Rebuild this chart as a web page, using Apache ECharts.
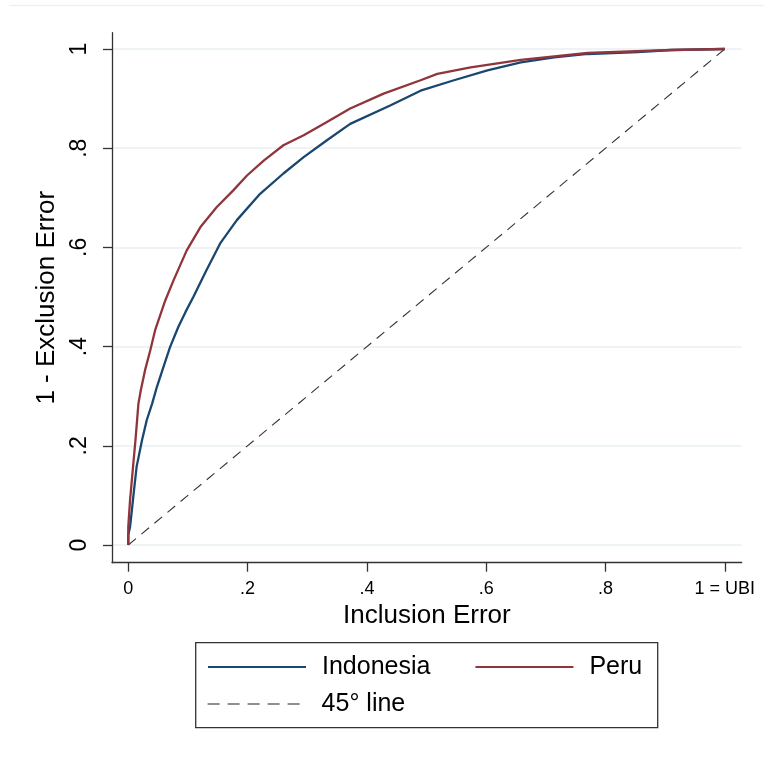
<!DOCTYPE html>
<html>
<head>
<meta charset="utf-8">
<script src="https://cdn.jsdelivr.net/npm/echarts@6/dist/echarts.min.js"></script>
<style>
html,body{margin:0;padding:0;background:#fff;}
#chart{width:764px;height:761px;}
</style>
</head>
<body>
<div id="chart"></div>
<script>
// ---- data ----
var xTickValues = [0, 0.2, 0.4, 0.6, 0.8, 1];
var xTickLabels = ['0', '.2', '.4', '.6', '.8', '1 = UBI'];
var yTickValues = [0, 0.2, 0.4, 0.6, 0.8, 1];
var yTickLabels = ['0', '.2', '.4', '.6', '.8', '1'];

var indonesia = [
  [0,0],[0,0.02],[0.003,0.037],[0.006,0.07],[0.009,0.104],[0.014,0.158],[0.023,0.211],
  [0.031,0.252],[0.04,0.285],[0.048,0.319],[0.059,0.359],[0.07,0.399],[0.084,0.44],
  [0.096,0.47],[0.109,0.5],[0.131,0.554],[0.154,0.608],[0.182,0.655],[0.221,0.708],
  [0.26,0.749],[0.294,0.782],[0.333,0.816],[0.372,0.849],[0.439,0.886],[0.49,0.916],
  [0.546,0.937],[0.602,0.957],[0.658,0.973],[0.714,0.983],[0.77,0.99],[0.854,0.994],
  [0.91,0.998],[1,1]
];
var peru = [
  [0,0],[0,0.037],[0.003,0.091],[0.008,0.158],[0.012,0.211],[0.017,0.285],[0.021,0.312],
  [0.028,0.352],[0.037,0.393],[0.045,0.433],[0.054,0.465],[0.062,0.493],[0.076,0.534],
  [0.098,0.594],[0.121,0.641],[0.148,0.681],[0.176,0.715],[0.199,0.745],[0.227,0.775],
  [0.26,0.806],[0.294,0.826],[0.333,0.853],[0.372,0.88],[0.428,0.91],[0.49,0.937],
  [0.518,0.95],[0.574,0.963],[0.658,0.978],[0.77,0.992],[0.91,0.998],[1,1]
];
var diagonal = [[0,0],[1,1]];

var seriesNames = ['Indonesia', 'Peru', '45\u00B0 line'];
var xTitle = 'Inclusion Error';
var yTitle = '1 - Exclusion Error';

var FONT = "'Liberation Sans', Arial, sans-serif";
var chart = echarts.init(document.getElementById('chart'), null, {renderer:'canvas'});

function lookup(values, labels){
  return function(v){
    for (var i=0;i<values.length;i++){ if (Math.abs(values[i]-v)<1e-9) return labels[i]; }
    return '';
  };
}

var legendCommon = {
  orient: 'horizontal', left: 207, padding: 0, itemWidth: 98, itemHeight: 14,
  selectedMode: false,
  itemStyle: {opacity: 0},
  textStyle: {fontFamily: FONT, fontSize: 25, color: '#000', padding: [0,0,0,11]}
};

var option = {
  animation: false,
  backgroundColor: '#ffffff',
  grid: {left: 112, right: 22.3, top: 32.7, bottom: 198.3, containLabel: false},
  xAxis: {
    type: 'value', min: -0.0273, max: 1.0283,
    name: xTitle, nameLocation: 'middle', nameGap: 35,
    nameTextStyle: {fontFamily: FONT, fontSize: 26, color: '#000'},
    axisLine: {show: true, onZero: false, lineStyle: {color: '#333', width: 1.3}},
    axisTick: {show: true, inside: false, length: 9, customValues: xTickValues, lineStyle: {color: '#333', width: 1.3}},
    axisLabel: {customValues: xTickValues, formatter: lookup(xTickValues, xTickLabels), margin: 17,
      fontFamily: FONT, fontSize: 18, color: '#000', showMinLabel: true, showMaxLabel: true},
    splitLine: {show: false}
  },
  yAxis: {
    type: 'value', min: -0.0357, max: 1.0329,
    name: yTitle, nameLocation: 'middle', nameGap: 45,
    nameTextStyle: {fontFamily: FONT, fontSize: 26, color: '#000'},
    axisLine: {show: true, onZero: false, lineStyle: {color: '#333', width: 1.3}},
    axisTick: {show: true, inside: false, length: 9, customValues: yTickValues, lineStyle: {color: '#333', width: 1.3}},
    axisLabel: {customValues: yTickValues, formatter: lookup(yTickValues, yTickLabels), rotate: 90, margin: 21,
      fontFamily: FONT, fontSize: 23, color: '#000', showMinLabel: true, showMaxLabel: true},
    splitLine: {show: true, lineStyle: {color: '#e9f1f3', width: 1.5}}
  },
  legend: [
    Object.assign({}, legendCommon, {
      data: [
        {name: seriesNames[0], lineStyle: {width: 2, color: '#1a476f'}},
        {name: seriesNames[1], lineStyle: {width: 2, color: '#90353b'}}
      ],
      top: 654.5, itemGap: 44}),
    Object.assign({}, legendCommon, {
      data: [{name: seriesNames[2], lineStyle: {width: 1.2, color: '#222', type: [12, 8], opacity: 1}}],
      top: 691.5})
  ],
  graphic: [
    {type: 'rect', silent: true, z: 100,
     shape: {x: 195.7, y: 642.7, width: 462, height: 85},
     style: {fill: 'none', stroke: '#333', lineWidth: 1.3}},
    {type: 'line', silent: true,
     shape: {x1: 9, y1: 5.5, x2: 764, y2: 5.5},
     style: {stroke: '#edf1f2', lineWidth: 1.5}}
  ],
  series: [
    {name: seriesNames[2], type: 'line', data: diagonal, symbol: 'none', z: 1,
     lineStyle: {color: '#333', width: 1.1, type: [10, 7]}, itemStyle: {color: '#333'}},
    {name: seriesNames[0], type: 'line', data: indonesia, symbol: 'none', z: 2,
     lineStyle: {color: '#1a476f', width: 2.3}, itemStyle: {color: '#1a476f'}},
    {name: seriesNames[1], type: 'line', data: peru, symbol: 'none', z: 3,
     lineStyle: {color: '#90353b', width: 2.3}, itemStyle: {color: '#90353b'}}
  ]
};
chart.setOption(option);
</script>
</body>
</html>
